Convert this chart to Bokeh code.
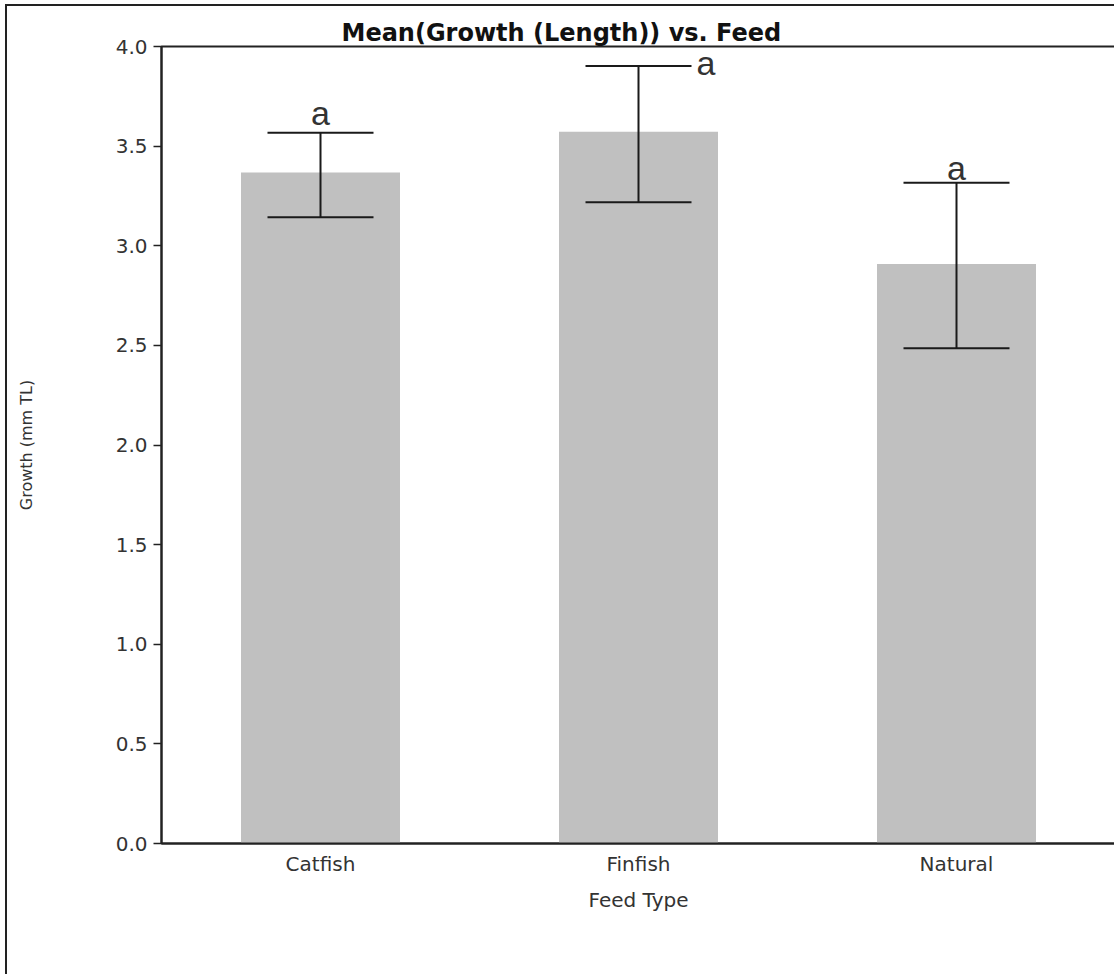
from bokeh.plotting import figure
from bokeh.models import (ColumnDataSource, Whisker, TeeHead, Label, FixedTicker,
                          NumeralTickFormatter, Range1d, FactorRange, Title)
from bokeh.embed import file_html
from bokeh.resources import INLINE

# ---------------- data ----------------
feed_types = ["Catfish", "Finfish", "Natural"]
mean_growth = [3.368, 3.572, 2.908]
ci_lower = [3.143, 3.218, 2.485]
ci_upper = [3.567, 3.902, 3.316]
group_letters = ["a", "a", "a"]
y_ticks = [0.0, 0.5, 1.0, 1.5, 2.0, 2.5, 3.0, 3.5, 4.0]
title_text = "Mean(Growth (Length)) vs. Feed"
x_title = "Feed Type"
y_title = "Growth (mm TL)"

# ---------------- style / layout ----------------
FONT = "DejaVu Sans"
LETTER_FONT = "Liberation Sans"
W, H = 1109, 970
FRAME_L, FRAME_T, FRAME_B, FRAME_R = 154, 40, 837, 1108
TITLE_OFFSET = 180
letter_offsets = [(0, 1, "center", "bottom"),
                  (58, -16, "left", "bottom"),
                  (0, -4, "center", "bottom")]

src = ColumnDataSource(dict(feed=feed_types, mean=mean_growth,
                            lower=ci_lower, upper=ci_upper))

title = Title(text=title_text, align="left", offset=TITLE_OFFSET,
              vertical_align="bottom", standoff=0, text_font=FONT,
              text_font_style="bold", text_font_size="24px", text_color="#111111")

p = figure(width=W, height=H, x_range=FactorRange(*feed_types),
           y_range=Range1d(0, 4.0), output_backend="svg", toolbar_location=None,
           title=title,
           min_border_left=FRAME_L, min_border_right=W - FRAME_R,
           min_border_top=FRAME_T, min_border_bottom=H - FRAME_B)
p.styles = {"border-left": "2px solid #222", "border-top": "2px solid #222",
            "margin-left": "5px", "margin-top": "4px"}

p.vbar(x="feed", top="mean", width=0.5, source=src, fill_color="#c0c0c0",
       line_color=None)

w = Whisker(base="feed", upper="upper", lower="lower", source=src,
            line_color="#1a1a1a", line_width=2, level="overlay",
            upper_head=TeeHead(size=106, line_color="#1a1a1a", line_width=2),
            lower_head=TeeHead(size=106, line_color="#1a1a1a", line_width=2))
p.add_layout(w)

for i, (f, up, let) in enumerate(zip(feed_types, ci_upper, group_letters)):
    dx, dy, al, bl = letter_offsets[i]
    p.add_layout(Label(x=i + 0.5, y=up, text=let, x_offset=dx, y_offset=dy,
                       text_align=al, text_baseline=bl, text_font=LETTER_FONT,
                       text_font_size="34px", text_color="#333333"))

p.grid.visible = False
p.outline_line_color = "#222222"
p.outline_line_width = 2
p.background_fill_color = "white"
p.border_fill_color = "white"

ya = p.yaxis[0]
ya.ticker = FixedTicker(ticks=y_ticks)
ya.formatter = NumeralTickFormatter(format="0.0")
ya.minor_tick_line_color = None
ya.major_tick_out = 8
ya.major_tick_in = 0
ya.major_tick_line_color = "#222222"
ya.major_tick_line_width = 1.5
ya.axis_line_color = "#222222"
ya.axis_line_width = 2
ya.major_label_text_font = FONT
ya.major_label_text_font_size = "20px"
ya.major_label_text_color = "#333333"
ya.major_label_standoff = 6
ya.axis_label = y_title
ya.axis_label_text_font = FONT
ya.axis_label_text_font_size = "16px"
ya.axis_label_text_font_style = "normal"
ya.axis_label_text_color = "#333333"
ya.axis_label_standoff = 77

xa = p.xaxis[0]
xa.major_tick_line_color = None
xa.minor_tick_line_color = None
xa.axis_line_color = "#222222"
xa.axis_line_width = 2
xa.major_label_text_font = FONT
xa.major_label_text_font_size = "20px"
xa.major_label_text_color = "#333333"
xa.major_label_standoff = 2
xa.axis_label = x_title
xa.axis_label_text_font = FONT
xa.axis_label_text_font_size = "20px"
xa.axis_label_text_font_style = "normal"
xa.axis_label_text_color = "#333333"
xa.axis_label_standoff = 9

open("out.html", "w").write(file_html(p, INLINE))
